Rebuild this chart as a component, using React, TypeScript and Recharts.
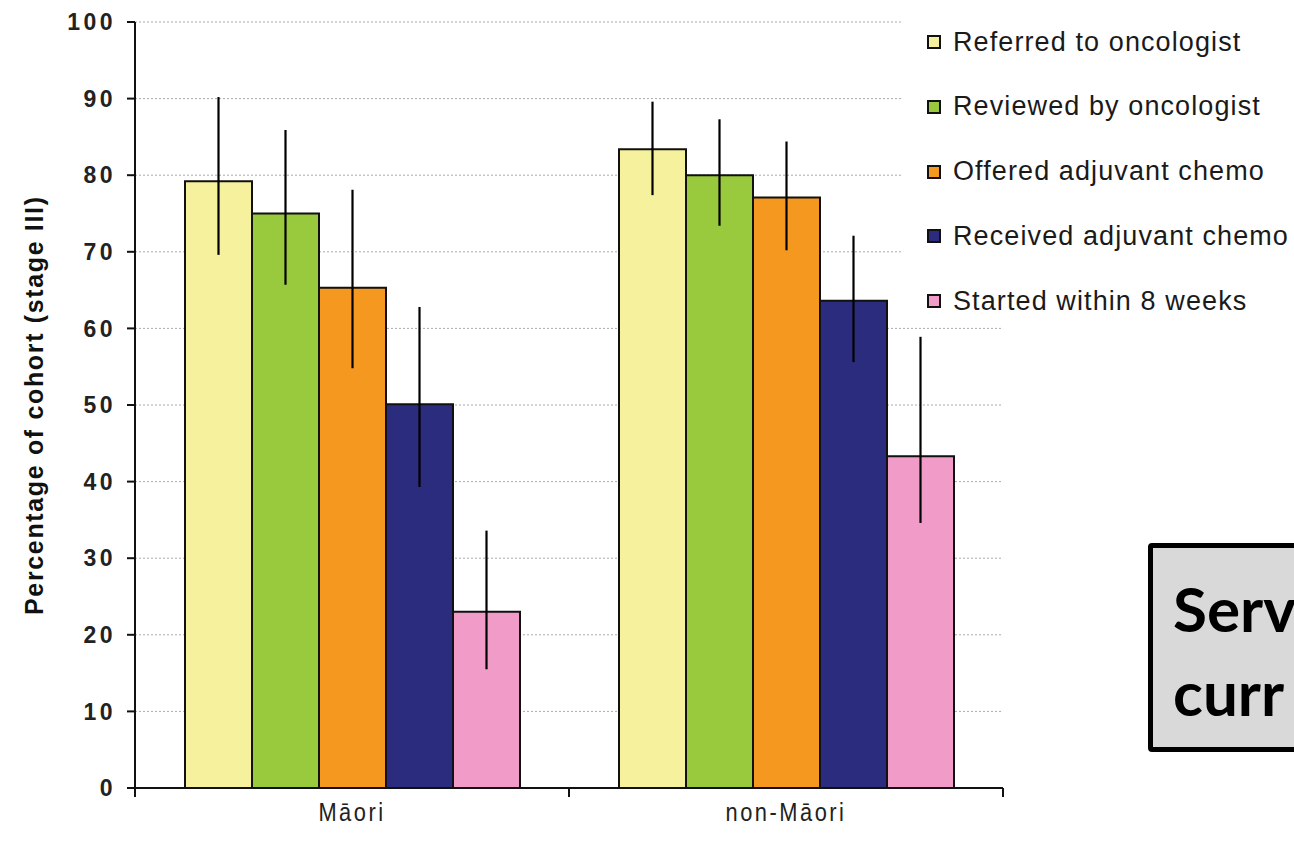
import React from 'react';
import { BarChart, Bar, XAxis, YAxis, CartesianGrid, ErrorBar, Legend } from 'recharts';

const categories = ['Māori', 'non-Māori'];
const seriesKeys = ['referred', 'reviewed', 'offered', 'received', 'started'];
const seriesNames = [
  'Referred to oncologist',
  'Reviewed by oncologist',
  'Offered adjuvant chemo',
  'Received adjuvant chemo',
  'Started within 8 weeks',
];
const seriesColors = ['#f6f19c', '#99c93d', '#f5981f', '#2b2c7d', '#f19bc8'];

const referred = [79.2, 83.4];
const reviewed = [75.0, 80.0];
const offered = [65.3, 77.1];
const received = [50.1, 63.6];
const started = [23.0, 43.3];

// [minus, plus] error extents
const referredErr = [[9.6, 11.0], [6.0, 6.2]];
const reviewedErr = [[9.3, 10.9], [6.6, 7.3]];
const offeredErr = [[10.5, 12.8], [6.9, 7.3]];
const receivedErr = [[10.8, 12.7], [8.0, 8.5]];
const startedErr = [[7.5, 10.6], [8.7, 15.6]];

const yTicks = [0, 10, 20, 30, 40, 50, 60, 70, 80, 90, 100];
const yLabel = 'Percentage of cohort (stage III)';
const boxLines = ['Serv', 'curr'];

const seriesValues = [referred, reviewed, offered, received, started];
const seriesErrors = [referredErr, reviewedErr, offeredErr, receivedErr, startedErr];

const data = categories.map((c, i) => {
  const row: any = { category: c };
  seriesKeys.forEach((k, s) => {
    row[k] = seriesValues[s][i];
    row[k + 'Err'] = seriesErrors[s][i];
  });
  return row;
});

const XTick = (props: any) => {
  const { x, y, payload, index, width, visibleTicksCount } = props;
  const half = payload && payload.offset ? payload.offset : width / visibleTicksCount / 2;
  const isLast = index === visibleTicksCount - 1;
  return (
    <g>
      <line x1={x - half} y1={y} x2={x - half} y2={y + 9} stroke="#111" strokeWidth={2} />
      {isLast && <line x1={x + half} y1={y} x2={x + half} y2={y + 9} stroke="#111" strokeWidth={2} />}
      <text
        transform={`translate(${x},${y + 33}) scale(0.84,1)`}
        textAnchor="middle"
        fill="#222"
        style={{ fontFamily: '"Liberation Sans", Arial, sans-serif', fontSize: 26, letterSpacing: 3 }}
      >
        {payload.value}
      </text>
    </g>
  );
};

const YLabel = () => (
  <text
    x={34}
    y={406}
    transform="rotate(-90 34 406)"
    textAnchor="middle"
    dominantBaseline="central"
    fill="#111"
    textLength={418}
    lengthAdjust="spacing"
    style={{ fontFamily: '"Liberation Sans", Arial, sans-serif', fontSize: 25, fontWeight: 700 }}
  >
    {yLabel}
  </text>
);

const LegendContent = () => (
  <div style={{ position: 'relative', width: '100%', height: '100%' }}>
    {seriesNames.map((name, i) => (
      <div
        key={name}
        style={{
          position: 'absolute',
          left: 24,
          top: 42 + i * 64.8 - 17,
          height: 34,
          display: 'flex',
          alignItems: 'center',
          whiteSpace: 'nowrap',
        }}
      >
        <span
          style={{
            display: 'inline-block',
            width: 10,
            height: 10,
            border: '2px solid #111',
            background: seriesColors[i],
            marginRight: 12,
          }}
        />
        <span
          style={{
            fontFamily: '"Liberation Sans", Arial, sans-serif',
            fontSize: 27,
            letterSpacing: 1.1,
            color: '#1a1a1a',
          }}
        >
          {name}
        </span>
      </div>
    ))}
  </div>
);

export default function App() {
  return (
    <div
      style={{
        position: 'absolute',
        left: 0,
        top: 0,
        width: 1294,
        height: 843,
        overflow: 'hidden',
        background: '#fff',
      }}
    >
      <BarChart
        width={1294}
        height={843}
        data={data}
        margin={{ top: 22, right: 291, bottom: 0, left: 0 }}
        barCategoryGap={50}
        barGap={0}
      >
        <CartesianGrid vertical={false} stroke="#aaa" strokeDasharray="2 2" />
        <XAxis
          dataKey="category"
          height={55}
          tickLine={false}
          tickSize={0}
          tickMargin={0}
          axisLine={{ stroke: '#111', strokeWidth: 2 }}
          tick={<XTick />}
          interval={0}
        />
        <YAxis
          width={135}
          domain={[0, 100]}
          ticks={yTicks}
          interval={0}
          tickSize={8}
          tickMargin={11}
          axisLine={{ stroke: '#111', strokeWidth: 2 }}
          tickLine={{ stroke: '#111', strokeWidth: 2 }}
          tick={{
            fill: '#222',
            fontSize: 23,
            fontWeight: 700,
            fontFamily: '"Liberation Sans", Arial, sans-serif',
            letterSpacing: 3.5,
          }}
          label={<YLabel />}
        />
        <Legend
          layout="vertical"
          align="center"
          verticalAlign="middle"
          wrapperStyle={{ left: 903, top: 0, width: 391, height: 322, background: '#fff' }}
          content={<LegendContent />}
        />
        {seriesKeys.map((k, s) => (
          <Bar
            key={k}
            dataKey={k}
            name={seriesNames[s]}
            fill={seriesColors[s]}
            stroke="#111"
            strokeWidth={2}
            isAnimationActive={false}
          >
            <ErrorBar dataKey={k + 'Err'} width={0} stroke="#000" strokeWidth={2.2} direction="y" isAnimationActive={false} />
          </Bar>
        ))}
      </BarChart>
      <div
        style={{
          position: 'absolute',
          left: 1148,
          top: 543,
          width: 200,
          height: 199,
          border: '5px solid #000',
          borderRadius: 4,
          background: '#d9d9d9',
          boxSizing: 'content-box',
        }}
      >
        {boxLines.map((t, i) => (
          <div
            key={t}
            style={{
              position: 'absolute',
              left: 20,
              top: 20 + i * 84,
              fontFamily: 'Lato, "Open Sans", sans-serif',
              fontWeight: 700,
              fontSize: 62,
              lineHeight: '80px',
              color: '#000',
            }}
          >
            {t}
          </div>
        ))}
      </div>
    </div>
  );
}
